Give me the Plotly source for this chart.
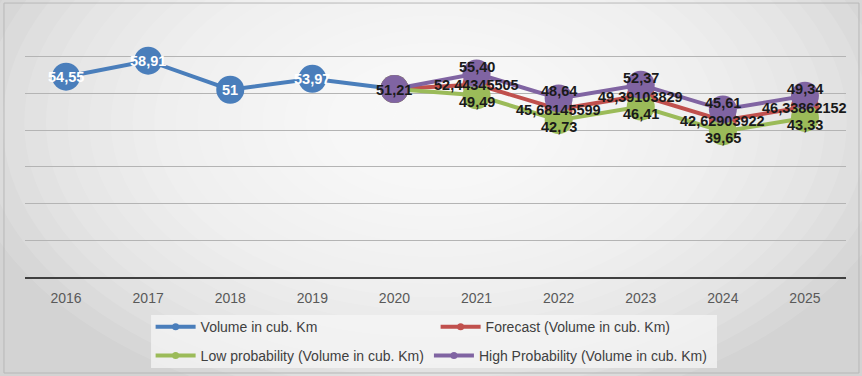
import plotly.graph_objects as go

# ---- data -------------------------------------------------------------
years = ["2016", "2017", "2018", "2019", "2020", "2021", "2022", "2023", "2024", "2025"]

volume = [54.55, 58.91, 51, 53.97, 51.21, None, None, None, None, None]
forecast = [None, None, None, None, 51.21, 52.44345505, 45.68145599, 49.39103829, 42.62903922, 46.33862152]
low_prob = [None, None, None, None, 51.21, 49.49, 42.73, 46.41, 39.65, 43.33]
high_prob = [None, None, None, None, 51.21, 55.40, 48.64, 52.37, 45.61, 49.34]

series_names = [
    "Volume in cub. Km",
    "Forecast (Volume in cub. Km)",
    "Low probability (Volume in cub. Km)",
    "High Probability (Volume in cub. Km)",
]

# ---- styling ----------------------------------------------------------
BLUE = "#4a7ebb"
RED = "#c0504d"
GREEN = "#9bbb59"
PURPLE = "#8064a2"
FONT = "Liberation Sans, Arial, sans-serif"
LABEL_DARK = "#1a1a1a"

xpos = list(range(len(years)))


def fmt_general(v):
    return format(v, ".10g").replace(".", ",")


def fmt_two(v):
    return f"{v:.2f}".replace(".", ",")


fig = go.Figure()

# soft radial background made of stacked translucent ellipses
n_layers = 22
for i in range(n_layers):
    f = 1 - i / n_layers
    fig.add_shape(
        type="circle", xref="paper", yref="paper", layer="below",
        x0=0.5 - 0.58 * f, x1=0.5 + 0.58 * f,
        y0=0.6 - 1.15 * f, y1=0.6 + 1.15 * f,
        fillcolor="rgba(255,255,255,0.11)", line_width=0,
    )

# outer frame of the chart area
fig.add_shape(
    type="rect", xref="paper", yref="paper", layer="below",
    x0=-0.0256, x1=1.0158, y0=-0.3735, y1=1.066,
    line=dict(color="#b8b8b8", width=1), fillcolor="rgba(0,0,0,0)",
)

# legend panel
fig.add_shape(
    type="rect", xref="paper", yref="paper", layer="below",
    x0=0.1535, x1=0.8429, y0=-0.354, y1=-0.148,
    line_width=0, fillcolor="rgba(246,246,246,0.75)",
)

series = [
    (volume, BLUE, "legend"),
    (forecast, RED, "legend"),
    (low_prob, GREEN, "legend2"),
    (high_prob, PURPLE, "legend2"),
]

# plotted series (large circular markers)
for (vals, color, _), name in zip(series, series_names):
    fig.add_trace(go.Scatter(
        x=xpos, y=vals, name=name, mode="lines+markers",
        line=dict(color=color, width=4),
        marker=dict(color=color, size=28, symbol="circle"),
        connectgaps=False, hoverinfo="skip", showlegend=False,
    ))

# legend keys with small markers
for (vals, color, leg), name in zip(series, series_names):
    fig.add_trace(go.Scatter(
        x=[None], y=[None], name=name, mode="lines+markers",
        line=dict(color=color, width=4),
        marker=dict(color=color, size=7, symbol="circle"),
        legend=leg, hoverinfo="skip", showlegend=True,
    ))


# ---- data labels --------------------------------------------------------
def add_labels(vals, fmt, color, yshift, start=0, stop=None):
    for i, v in enumerate(vals):
        if v is None or i < start or (stop is not None and i >= stop):
            continue
        fig.add_annotation(
            x=xpos[i], y=v, xref="x", yref="y",
            text="<b>%s</b>" % fmt(v), showarrow=False, yshift=yshift,
            font=dict(family=FONT, size=14.5, color=color),
        )


add_labels(volume, fmt_general, "white", 0, stop=4)
add_labels(forecast, fmt_general, LABEL_DARK, -1)
add_labels(low_prob, fmt_two, LABEL_DARK, -7, start=5)
add_labels(high_prob, fmt_two, LABEL_DARK, 7, start=5)

legend_font = dict(family=FONT, size=14, color="#404040")

fig.update_layout(
    width=862, height=376,
    margin=dict(l=25, r=16, t=20, b=99, autoexpand=False),
    paper_bgcolor="#d3d3d3",
    plot_bgcolor="rgba(0,0,0,0)",
    font=dict(family=FONT, color="#595959"),
    showlegend=True,
    legend=dict(
        orientation="h", x=0.153, xanchor="left", y=-0.1324, yanchor="top",
        bgcolor="rgba(0,0,0,0)", font=legend_font,
        entrywidth=230, itemwidth=40, traceorder="normal",
    ),
    legend2=dict(
        orientation="h", x=0.153, xanchor="left", y=-0.2451, yanchor="top",
        bgcolor="rgba(0,0,0,0)", font=legend_font,
        itemwidth=40, traceorder="normal",
    ),
    xaxis=dict(
        range=[-0.5, len(years) - 0.5],
        tickmode="array", tickvals=xpos, ticktext=years,
        showgrid=False, zeroline=False, ticks="", ticklabelstandoff=7,
        showline=True, linecolor="#404040", linewidth=2,
        tickfont=dict(family=FONT, size=14, color="#595959"),
        fixedrange=True,
    ),
    yaxis=dict(
        range=[0, 70], dtick=10, showgrid=True, gridcolor="#b4b4b4", gridwidth=1,
        showticklabels=False, zeroline=False, showline=False, fixedrange=True,
    ),
)

fig.write_html("out.html")
